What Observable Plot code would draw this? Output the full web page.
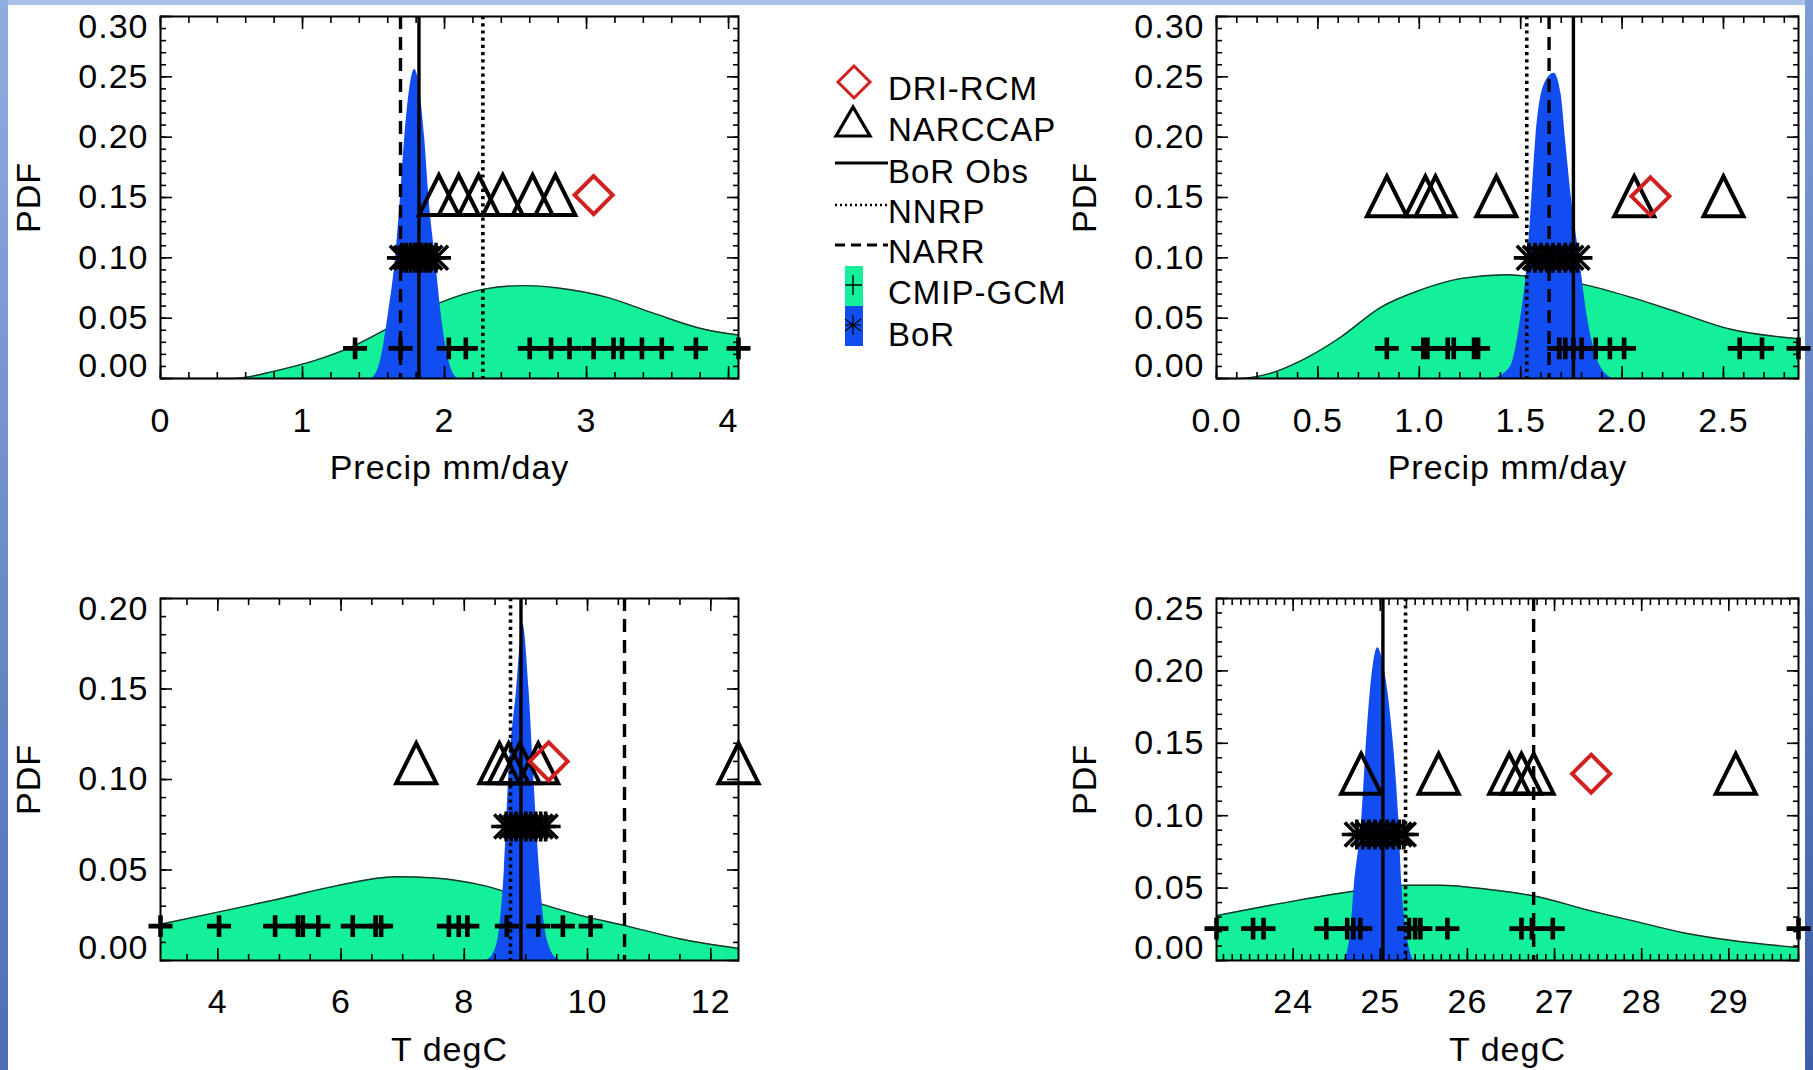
<!DOCTYPE html>
<html><head><meta charset="utf-8">
<script src="https://cdn.jsdelivr.net/npm/d3@7"></script>
<script src="https://cdn.jsdelivr.net/npm/@observablehq/plot@0.6"></script>
<style>
html,body{margin:0;padding:0;background:#fff;}
#root{position:relative;width:1813px;height:1070px;overflow:hidden;background:#fff;font-family:"Liberation Sans",Arial,sans-serif;}
#root > svg, #root > figure{position:absolute;margin:0;}
.edge{position:absolute;}
</style></head>
<body><div id="root">
<div class="edge" style="left:0;top:0;width:1813px;height:5px;background:#a9c1e8"></div>
<div class="edge" style="left:0;top:0;width:8px;height:1070px;background:linear-gradient(#8fadde,#4d6fb6)"></div>
<div class="edge" style="left:1805px;top:0;width:8px;height:1070px;background:linear-gradient(#7d9dd6,#3d5fa8)"></div>
</div>
<script>
// ---------- Panel 1: Precip (top-left) ----------
const p1_xDomain = [0, 4.07];
const p1_yDomain = [0, 0.30];
const p1_xTicks = [0, 1, 2, 3, 4];
const p1_xLabels = ["0", "1", "2", "3", "4"];
const p1_yTicks = [0, 0.05, 0.10, 0.15, 0.20, 0.25, 0.30];
const p1_yLabels = ["0.00", "0.05", "0.10", "0.15", "0.20", "0.25", "0.30"];
const p1_gcm = [1.37, 1.69, 2.03, 2.15, 2.60, 2.75, 2.88, 3.05, 3.19, 3.25, 3.39, 3.53, 3.77, 4.07];
const p1_bor = [1.70, 1.73, 1.76, 1.79, 1.81, 1.84, 1.87, 1.90, 1.94];
const p1_narccap = [1.96, 2.10, 2.24, 2.41, 2.62, 2.78];
const p1_dri = [3.05];
const p1_refs = [1.82, 2.27, 1.69]; // BoR Obs, NNRP, NARR
const p1_levels = [0.025, 0.10, 0.152, 0.152]; // GCM, BoR, NARCCAP, DRI
const p1_gcmPdfX = [0, 0.50, 0.65, 0.78, 1.09, 1.37, 1.64, 1.95, 2.29, 2.56, 2.80, 3.14, 3.48, 3.82, 4.07];
const p1_gcmPdfY = [0, 0, 0.002, 0.0055, 0.015, 0.0275, 0.044, 0.062, 0.0743, 0.077, 0.075, 0.0674, 0.0537, 0.041, 0.036];
const p1_borPdfX = [1.49, 1.55, 1.60, 1.655, 1.69, 1.72, 1.79, 1.86, 1.89, 1.935, 1.98, 2.03, 2.09];
const p1_borPdfY = [0, 0.015, 0.05, 0.10, 0.15, 0.20, 0.256, 0.20, 0.15, 0.10, 0.05, 0.015, 0];

// ---------- Panel 2: Precip (top-right) ----------
const p2_xDomain = [0, 2.87];
const p2_yDomain = [0, 0.30];
const p2_xTicks = [0, 0.5, 1.0, 1.5, 2.0, 2.5];
const p2_xLabels = ["0.0", "0.5", "1.0", "1.5", "2.0", "2.5"];
const p2_yTicks = [0, 0.05, 0.10, 0.15, 0.20, 0.25, 0.30];
const p2_yLabels = ["0.00", "0.05", "0.10", "0.15", "0.20", "0.25", "0.30"];
const p2_gcm = [0.84, 1.02, 1.04, 1.14, 1.17, 1.27, 1.29, 1.69, 1.72, 1.76, 1.80, 1.87, 1.94, 2.01, 2.58, 2.69, 2.87];
const p2_bor = [1.54, 1.57, 1.60, 1.63, 1.66, 1.69, 1.72, 1.75, 1.78];
const p2_narccap = [0.84, 1.03, 1.08, 1.38, 2.06, 2.50];
const p2_dri = [2.14];
const p2_refs = [1.76, 1.53, 1.64];
const p2_levels = [0.025, 0.10, 0.151, 0.151];
const p2_gcmPdfX = [0, 0.11, 0.26, 0.42, 0.61, 0.81, 1.00, 1.21, 1.43, 1.52, 1.81, 2.05, 2.29, 2.53, 2.87];
const p2_gcmPdfY = [0, 0, 0.004, 0.015, 0.034, 0.059, 0.073, 0.083, 0.086, 0.085, 0.078, 0.067, 0.054, 0.041, 0.033];
const p2_borPdfX = [1.37, 1.45, 1.50, 1.535, 1.555, 1.575, 1.62, 1.665, 1.70, 1.72, 1.75, 1.79, 1.83, 1.88, 1.95];
const p2_borPdfY = [0, 0.01, 0.05, 0.10, 0.15, 0.20, 0.245, 0.253, 0.235, 0.20, 0.15, 0.10, 0.05, 0.015, 0];

// ---------- Panel 3: Temperature (bottom-left) ----------
const p3_xDomain = [3.07, 12.45];
const p3_yDomain = [0, 0.20];
const p3_xTicks = [4, 6, 8, 10, 12];
const p3_xLabels = ["4", "6", "8", "10", "12"];
const p3_yTicks = [0, 0.05, 0.10, 0.15, 0.20];
const p3_yLabels = ["0.00", "0.05", "0.10", "0.15", "0.20"];
const p3_gcm = [3.07, 4.02, 4.93, 5.30, 5.38, 5.63, 6.19, 6.56, 6.65, 7.75, 7.91, 8.05, 8.69, 9.20, 9.60, 10.05];
const p3_bor = [8.68, 8.76, 8.84, 8.92, 9.00, 9.08, 9.16, 9.24, 9.32];
const p3_narccap = [7.22, 8.57, 8.72, 8.90, 9.20, 12.45];
const p3_dri = [9.37];
const p3_refs = [8.92, 8.75, 10.60];
const p3_levels = [0.019, 0.074, 0.109, 0.110];
const p3_gcmPdfX = [3.07, 4.00, 4.99, 5.94, 6.89, 7.52, 8.32, 9.27, 9.90, 10.61, 11.49, 12.45];
const p3_gcmPdfY = [0.020, 0.0267, 0.034, 0.0414, 0.0463, 0.0456, 0.0414, 0.031, 0.0248, 0.0193, 0.012, 0.0066];
const p3_borPdfX = [8.36, 8.50, 8.58, 8.65, 8.72, 8.85, 8.95, 9.05, 9.13, 9.22, 9.30, 9.40, 9.54];
const p3_borPdfY = [0, 0.006, 0.02, 0.05, 0.10, 0.15, 0.186, 0.15, 0.10, 0.05, 0.02, 0.006, 0];

// ---------- Panel 4: Temperature (bottom-right) ----------
const p4_xDomain = [23.12, 29.80];
const p4_yDomain = [0, 0.25];
const p4_xTicks = [24, 25, 26, 27, 28, 29];
const p4_xLabels = ["24", "25", "26", "27", "28", "29"];
const p4_yTicks = [0, 0.05, 0.10, 0.15, 0.20, 0.25];
const p4_yLabels = ["0.00", "0.05", "0.10", "0.15", "0.20", "0.25"];
const p4_gcm = [23.12, 23.54, 23.66, 24.38, 24.62, 24.69, 24.77, 25.33, 25.40, 25.46, 25.77, 26.62, 26.74, 26.98, 29.80];
const p4_bor = [24.73, 24.80, 24.87, 24.94, 25.01, 25.08, 25.15, 25.22, 25.27];
const p4_narccap = [24.78, 25.67, 26.48, 26.62, 26.76, 29.08];
const p4_dri = [27.42];
const p4_refs = [25.03, 25.29, 26.76];
const p4_levels = [0.022, 0.087, 0.129, 0.129];
const p4_gcmPdfX = [23.12, 24.00, 24.84, 25.29, 25.69, 26.25, 26.81, 27.37, 27.93, 28.49, 29.06, 29.80];
const p4_gcmPdfY = [0.031, 0.041, 0.049, 0.052, 0.052, 0.049, 0.044, 0.035, 0.027, 0.019, 0.0136, 0.009];
const p4_borPdfX = [24.59, 24.66, 24.70, 24.79, 24.84, 24.91, 24.97, 25.05, 25.15, 25.21, 25.25, 25.30, 25.38];
const p4_borPdfY = [0, 0.02, 0.05, 0.10, 0.15, 0.20, 0.216, 0.20, 0.15, 0.10, 0.05, 0.02, 0];

const legendNames = ["DRI-RCM", "NARCCAP", "BoR Obs", "NNRP", "NARR", "CMIP-GCM", "BoR"];

// ---------- styles ----------
const GREEN = "#14f09a", BLUE = "#114df0", RED = "#d21f1f";
const FONT = "'Liberation Sans', Arial, sans-serif";
const FS = 34;

const rad = size => Math.sqrt(size / Math.PI);
const triSym = {draw(c, s) { const r = rad(s); c.moveTo(-r, r); c.lineTo(0, -r); c.lineTo(r, r); c.closePath(); }};
const diaSym = {draw(c, s) { const r = rad(s); c.moveTo(0, -r); c.lineTo(r, 0); c.lineTo(0, r); c.lineTo(-r, 0); c.closePath(); }};
const plusSym = {draw(c, s) { const r = rad(s); c.moveTo(-r, 0); c.lineTo(r, 0); c.moveTo(0, -r * 0.9); c.lineTo(0, r * 0.9); }};
const starSym = {draw(c, s) { const r = rad(s); const a = r * 0.8;
  c.moveTo(0, -r); c.lineTo(0, r); c.moveTo(-r, 0); c.lineTo(r, 0);
  c.moveTo(-a, -a); c.lineTo(a, a); c.moveTo(-a, a); c.lineTo(a, -a); }};

function panel(o) {
  const gRows = o.gX.map((x, i) => ({x, y: o.gY[i]}));
  const bRows = o.bX.map((x, i) => ({x, y: o.bY[i]}));
  const [obs, nnrp, narr] = o.refs;
  const [lG, lB, lN, lD] = o.levels;
  const nY = o.yTicks.length;
  const xMinor = d3.range(Math.ceil(o.xDomain[0] / o.xMinorStep - 1e-9), Math.floor(o.xDomain[1] / o.xMinorStep + 1e-9) + 1).map(k => +(k * o.xMinorStep).toFixed(6));
  const yMinor = d3.range(0, Math.round(o.yDomain[1] / 0.01) + 1).map(k => +(k * 0.01).toFixed(4));
  const noText = () => "";
  const ax = (anchor, ticks, size) => (anchor === "left" || anchor === "right")
    ? Plot.axisY(ticks, {anchor, tickSize: -size, tickFormat: noText, label: null, strokeWidth: 1.6})
    : Plot.axisX(ticks, {anchor, tickSize: -size, tickFormat: noText, label: null, strokeWidth: 1.6});
  const mid = o.yTicks.map((v, i) => ({v, t: o.yLabels[i]}));
  return Plot.plot({
    width: o.width, height: o.height,
    marginLeft: o.ml, marginRight: o.mr, marginTop: o.mt, marginBottom: o.mb,
    x: {domain: o.xDomain, axis: null},
    y: {domain: o.yDomain, axis: null},
    style: {fontFamily: FONT, fontSize: FS + "px", color: "#000", background: "transparent", letterSpacing: "1px", overflow: "visible"},
    marks: [
      Plot.areaY(gRows, {x: "x", y: "y", fill: GREEN, curve: "monotone-x"}),
      Plot.line(gRows, {x: "x", y: "y", stroke: "#1b3328", strokeWidth: 1.4, curve: "monotone-x"}),
      Plot.areaY(bRows, {x: "x", y: "y", fill: BLUE, curve: "monotone-x"}),
      Plot.ruleX([obs], {stroke: "#000", strokeWidth: 3.4}),
      Plot.ruleX([nnrp], {stroke: "#000", strokeWidth: 3.6, strokeDasharray: "3.2,4"}),
      Plot.ruleX([narr], {stroke: "#000", strokeWidth: 3.4, strokeDasharray: "13,8"}),
      Plot.dot(o.gcm, {x: d => d, y: () => lG, symbol: plusSym, r: 12, fill: "none", stroke: "#000", strokeWidth: 4.6}),
      Plot.dot(o.bor, {x: d => d, y: () => lB, symbol: starSym, r: 15, fill: "none", stroke: "#000", strokeWidth: 3.6}),
      Plot.dot(o.narccap, {x: d => d, y: () => lN, symbol: triSym, r: 20, fill: "none", stroke: "#000", strokeWidth: 4}),
      Plot.dot(o.dri, {x: d => d, y: () => lD, symbol: diaSym, r: 19, fill: "none", stroke: RED, strokeWidth: 4}),
      ax("left", yMinor, 6), ax("right", yMinor, 6), ax("left", o.yTicks, 12), ax("right", o.yTicks, 12),
      ax("bottom", xMinor, 6), ax("top", xMinor, 6), ax("bottom", o.xTicks, 12), ax("top", o.xTicks, 12),
      Plot.frame({stroke: "#000", strokeWidth: 2}),
      Plot.text(mid.slice(1, nY - 1), {y: "v", text: "t", frameAnchor: "left", dx: -12, textAnchor: "end", lineAnchor: "middle", fill: "#000"}),
      Plot.text(mid.slice(0, 1), {y: "v", text: "t", frameAnchor: "left", dx: -12, dy: -12, textAnchor: "end", lineAnchor: "middle", fill: "#000"}),
      Plot.text(mid.slice(nY - 1), {y: "v", text: "t", frameAnchor: "left", dx: -12, dy: 11, textAnchor: "end", lineAnchor: "middle", fill: "#000"}),
      Plot.text(o.xTicks.map((v, i) => ({v, t: o.xLabels[i]})), {x: "v", text: "t", frameAnchor: "bottom", dy: o.labDy, lineAnchor: "middle", textAnchor: "middle", fill: "#000"}),
      Plot.text([o.xTitle], {text: d => d, frameAnchor: "bottom", dy: 90, lineAnchor: "middle", textAnchor: "middle", fill: "#000"}),
      Plot.text(["PDF"], {text: d => d, frameAnchor: "left", dx: -131, rotate: -90, textAnchor: "middle", lineAnchor: "middle", fill: "#000"})
    ]
  });
}

const root = document.getElementById("root");
function place(el, left, top) { el.style.left = left + "px"; el.style.top = top + "px"; root.appendChild(el); }

place(panel({width: 906, height: 535, ml: 160, mr: 168, mt: 16, mb: 157, labDy: 43,
  xDomain: p1_xDomain, yDomain: p1_yDomain, xTicks: p1_xTicks, xLabels: p1_xLabels, yTicks: p1_yTicks, yLabels: p1_yLabels, xMinorStep: 0.2,
  gcm: p1_gcm, bor: p1_bor, narccap: p1_narccap, dri: p1_dri, refs: p1_refs, levels: p1_levels,
  gX: p1_gcmPdfX, gY: p1_gcmPdfY, bX: p1_borPdfX, bY: p1_borPdfY, xTitle: "Precip mm/day"}), 0, 0);

place(panel({width: 907, height: 535, ml: 310, mr: 15, mt: 16, mb: 157, labDy: 43,
  xDomain: p2_xDomain, yDomain: p2_yDomain, xTicks: p2_xTicks, xLabels: p2_xLabels, yTicks: p2_yTicks, yLabels: p2_yLabels, xMinorStep: 0.1,
  gcm: p2_gcm, bor: p2_bor, narccap: p2_narccap, dri: p2_dri, refs: p2_refs, levels: p2_levels,
  gX: p2_gcmPdfX, gY: p2_gcmPdfY, bX: p2_borPdfX, bY: p2_borPdfY, xTitle: "Precip mm/day"}), 906, 0);

place(panel({width: 906, height: 535, ml: 160, mr: 168, mt: 63, mb: 110, labDy: 42,
  xDomain: p3_xDomain, yDomain: p3_yDomain, xTicks: p3_xTicks, xLabels: p3_xLabels, yTicks: p3_yTicks, yLabels: p3_yLabels, xMinorStep: 0.5,
  gcm: p3_gcm, bor: p3_bor, narccap: p3_narccap, dri: p3_dri, refs: p3_refs, levels: p3_levels,
  gX: p3_gcmPdfX, gY: p3_gcmPdfY, bX: p3_borPdfX, bY: p3_borPdfY, xTitle: "T degC"}), 0, 535);

place(panel({width: 907, height: 535, ml: 310, mr: 15, mt: 63, mb: 110, labDy: 42,
  xDomain: p4_xDomain, yDomain: p4_yDomain, xTicks: p4_xTicks, xLabels: p4_xLabels, yTicks: p4_yTicks, yLabels: p4_yLabels, xMinorStep: 0.1,
  gcm: p4_gcm, bor: p4_bor, narccap: p4_narccap, dri: p4_dri, refs: p4_refs, levels: p4_levels,
  gX: p4_gcmPdfX, gY: p4_gcmPdfY, bX: p4_borPdfX, bY: p4_borPdfY, xTitle: "T degC"}), 906, 535);

// ---------- legend ----------
const NS = "http://www.w3.org/2000/svg";
const lg = document.createElementNS(NS, "svg");
lg.setAttribute("width", 400); lg.setAttribute("height", 320);
lg.style.left = "800px"; lg.style.top = "50px"; lg.style.overflow = "visible";
const ox = -800, oy = -50;
function el(tag, attrs) { const e = document.createElementNS(NS, tag); for (const k in attrs) e.setAttribute(k, attrs[k]); lg.appendChild(e); return e; }
const P = (pts) => pts.map((p, i) => (i ? "L" : "M") + (p[0] + ox) + "," + (p[1] + oy)).join("");
el("path", {d: P([[854, 66], [870, 82], [854, 98], [838, 82]]) + "Z", fill: "none", stroke: RED, "stroke-width": 3});
el("path", {d: P([[836, 136], [853, 107], [870, 136]]) + "Z", fill: "none", stroke: "#000", "stroke-width": 3.2});
el("path", {d: P([[835, 163], [888, 163]]), stroke: "#000", "stroke-width": 3});
el("path", {d: P([[835, 205], [888, 205]]), stroke: "#000", "stroke-width": 2.5, "stroke-dasharray": "2,3"});
el("path", {d: P([[835, 245], [888, 245]]), stroke: "#000", "stroke-width": 3, "stroke-dasharray": "10,6"});
el("rect", {x: 845 + ox, y: 266 + oy, width: 18, height: 40, fill: GREEN});
el("rect", {x: 845 + ox, y: 306 + oy, width: 18, height: 40, fill: BLUE});
el("path", {d: P([[845, 285], [862, 285]]) + P([[853, 275], [853, 295]]), stroke: "#000", "stroke-width": 1.4});
el("path", {d: P([[853, 315], [853, 335]]) + P([[845, 319], [861, 331]]) + P([[845, 331], [861, 319]]) + P([[845, 325], [861, 325]]), stroke: "#000", "stroke-width": 1.2});
const rowsY = [88, 129.5, 171, 211.6, 251, 292.5, 334];
legendNames.forEach((name, i) => {
  const t = el("text", {x: 888 + ox, y: rowsY[i] + oy, "dominant-baseline": "central", "font-family": FONT, "font-size": 33, "letter-spacing": "1px", fill: "#000"});
  t.textContent = name;
});
root.appendChild(lg);
</script>
</body></html>
